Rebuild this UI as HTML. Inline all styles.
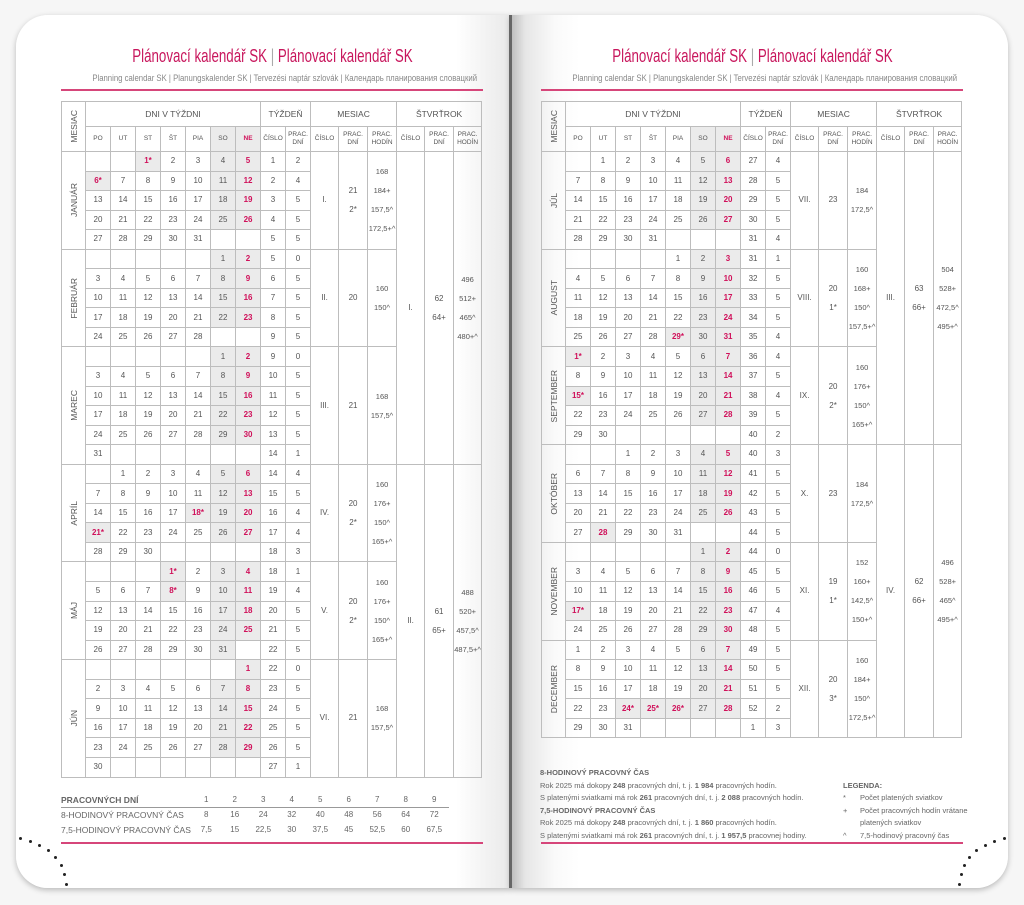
<!DOCTYPE html>
<html><head><meta charset="utf-8">
<style>
*{margin:0;padding:0;box-sizing:border-box}
body{width:1024px;height:905px;background:#f6f6f6;position:relative;overflow:hidden;font-family:"Liberation Sans Narrow","Liberation Sans",sans-serif;color:#555}
.pg{position:absolute;top:15px;height:873px;background:#fff;box-shadow:0 2px 6px rgba(0,0,0,.25)}
#lp{left:16px;width:494px;border-radius:32px 0 0 32px;background:linear-gradient(90deg,#fff 0,#fff 440px,#e9e9e9 494px)}
#rp{left:510px;width:498px;border-radius:0 32px 32px 0;background:linear-gradient(90deg,#b9b9b9 0,#e6e6e6 15px,#fafafa 45px,#fff 70px)}
#gut{position:absolute;left:509px;top:15px;width:3px;height:873px;background:#666}
.t{position:absolute;width:422px;text-align:center;white-space:nowrap}
.t>span.in{display:inline-block;transform:scaleX(.74);transform-origin:center}
.t1{top:46px;font-size:18px;color:#c8175d}
.t1 .g{color:#aaa}
.t2{top:73px;font-size:9px;color:#888}
.t2>span.in{transform:scaleX(.86)}
.pl{position:absolute;height:2px;background:#d6467a;width:422px}
table{position:absolute;top:101px;border-collapse:collapse;table-layout:fixed;width:421px;font-size:8px;text-align:center}
td{border:1px solid #bdbdbd;padding:0;vertical-align:middle;line-height:10px;white-space:nowrap}
tr{height:19.56px}
tr.h1{height:25px}tr.h2{height:25px}
.h1 td{font-size:8.5px}
.h2 td{font-size:6.5px;line-height:8px}
.s{background:#ebebeb}
.r{color:#d0105a;font-weight:bold}
.v{writing-mode:vertical-rl;transform:rotate(180deg);margin:auto;font-size:8.5px}
.hh{line-height:19px;font-size:7.5px}
.q{line-height:19px}
.bt{position:absolute;font-size:8.5px;color:#666;white-space:nowrap}
.dot{position:absolute;width:3px;height:3px;border-radius:50%;background:#222}
</style></head><body>
<div class="pg" id="lp"></div>
<div class="pg" id="rp"></div>
<div id="gut"></div>

<div class="t t1" style="left:61px"><span class="in">Plánovací kalendář SK <span class="g">|</span> Plánovací kalendář SK</span></div>
<div class="t t2" style="left:61px"><span class="in">Planning calendar SK | Planungskalender SK | Tervezési naptár szlovák | Календарь планирования словацкий</span></div>
<div class="pl" style="left:61px;top:89px"></div>
<div class="t t1" style="left:541px"><span class="in">Plánovací kalendář SK <span class="g">|</span> Plánovací kalendář SK</span></div>
<div class="t t2" style="left:541px"><span class="in">Planning calendar SK | Planungskalender SK | Tervezési naptár szlovák | Календарь планирования словацкий</span></div>
<div class="pl" style="left:541px;top:89px"></div>

<table style="left:61px">
<colgroup><col style="width:24px"><col style="width:25px"><col style="width:25px"><col style="width:25px"><col style="width:25px"><col style="width:25px"><col style="width:25px"><col style="width:25px"><col style="width:25px"><col style="width:25px"><col style="width:28px"><col style="width:29px"><col style="width:29px"><col style="width:28px"><col style="width:29px"><col style="width:28px"></colgroup>
<tr class="h1"><td rowspan="2"><div class="v">MESIAC</div></td><td colspan="7">DNI V TÝŽDNI</td><td colspan="2">TÝŽDEŇ</td><td colspan="3">MESIAC</td><td colspan="3">ŠTVRŤROK</td></tr>
<tr class="h2"><td>PO</td><td>UT</td><td>ST</td><td>ŠT</td><td>PIA</td><td class="s">SO</td><td class="s r">NE</td><td>ČÍSLO</td><td>PRAC.<br>DNÍ</td><td>ČÍSLO</td><td>PRAC.<br>DNÍ</td><td>PRAC.<br>HODÍN</td><td>ČÍSLO</td><td>PRAC.<br>DNÍ</td><td>PRAC.<br>HODÍN</td></tr>

<tr><td rowspan="5"><div class="v">JANUÁR</div></td><td></td><td></td><td class="s r">1*</td><td>2</td><td>3</td><td class="s">4</td><td class="s r">5</td><td>1</td><td>2</td><td rowspan="5">I.</td><td rowspan="5" class="q">21<br>2*</td><td rowspan="5" class="hh">168<br>184+<br>157,5^<br>172,5+^</td><td rowspan="16">I.</td><td rowspan="16" class="q">62<br>64+</td><td rowspan="16" class="hh">496<br>512+<br>465^<br>480+^</td></tr>
<tr><td class="s r">6*</td><td>7</td><td>8</td><td>9</td><td>10</td><td class="s">11</td><td class="s r">12</td><td>2</td><td>4</td></tr>
<tr><td>13</td><td>14</td><td>15</td><td>16</td><td>17</td><td class="s">18</td><td class="s r">19</td><td>3</td><td>5</td></tr>
<tr><td>20</td><td>21</td><td>22</td><td>23</td><td>24</td><td class="s">25</td><td class="s r">26</td><td>4</td><td>5</td></tr>
<tr><td>27</td><td>28</td><td>29</td><td>30</td><td>31</td><td></td><td></td><td>5</td><td>5</td></tr>

<tr><td rowspan="5"><div class="v">FEBRUÁR</div></td><td></td><td></td><td></td><td></td><td></td><td class="s">1</td><td class="s r">2</td><td>5</td><td>0</td><td rowspan="5">II.</td><td rowspan="5">20</td><td rowspan="5" class="hh">160<br>150^</td></tr>
<tr><td>3</td><td>4</td><td>5</td><td>6</td><td>7</td><td class="s">8</td><td class="s r">9</td><td>6</td><td>5</td></tr>
<tr><td>10</td><td>11</td><td>12</td><td>13</td><td>14</td><td class="s">15</td><td class="s r">16</td><td>7</td><td>5</td></tr>
<tr><td>17</td><td>18</td><td>19</td><td>20</td><td>21</td><td class="s">22</td><td class="s r">23</td><td>8</td><td>5</td></tr>
<tr><td>24</td><td>25</td><td>26</td><td>27</td><td>28</td><td></td><td></td><td>9</td><td>5</td></tr>

<tr><td rowspan="6"><div class="v">MAREC</div></td><td></td><td></td><td></td><td></td><td></td><td class="s">1</td><td class="s r">2</td><td>9</td><td>0</td><td rowspan="6">III.</td><td rowspan="6">21</td><td rowspan="6" class="hh">168<br>157,5^</td></tr>
<tr><td>3</td><td>4</td><td>5</td><td>6</td><td>7</td><td class="s">8</td><td class="s r">9</td><td>10</td><td>5</td></tr>
<tr><td>10</td><td>11</td><td>12</td><td>13</td><td>14</td><td class="s">15</td><td class="s r">16</td><td>11</td><td>5</td></tr>
<tr><td>17</td><td>18</td><td>19</td><td>20</td><td>21</td><td class="s">22</td><td class="s r">23</td><td>12</td><td>5</td></tr>
<tr><td>24</td><td>25</td><td>26</td><td>27</td><td>28</td><td class="s">29</td><td class="s r">30</td><td>13</td><td>5</td></tr>
<tr><td>31</td><td></td><td></td><td></td><td></td><td></td><td></td><td>14</td><td>1</td></tr>

<tr><td rowspan="5"><div class="v">APRÍL</div></td><td></td><td>1</td><td>2</td><td>3</td><td>4</td><td class="s">5</td><td class="s r">6</td><td>14</td><td>4</td><td rowspan="5">IV.</td><td rowspan="5" class="q">20<br>2*</td><td rowspan="5" class="hh">160<br>176+<br>150^<br>165+^</td><td rowspan="16">II.</td><td rowspan="16" class="q">61<br>65+</td><td rowspan="16" class="hh">488<br>520+<br>457,5^<br>487,5+^</td></tr>
<tr><td>7</td><td>8</td><td>9</td><td>10</td><td>11</td><td class="s">12</td><td class="s r">13</td><td>15</td><td>5</td></tr>
<tr><td>14</td><td>15</td><td>16</td><td>17</td><td class="s r">18*</td><td class="s">19</td><td class="s r">20</td><td>16</td><td>4</td></tr>
<tr><td class="s r">21*</td><td>22</td><td>23</td><td>24</td><td>25</td><td class="s">26</td><td class="s r">27</td><td>17</td><td>4</td></tr>
<tr><td>28</td><td>29</td><td>30</td><td></td><td></td><td></td><td></td><td>18</td><td>3</td></tr>

<tr><td rowspan="5"><div class="v">MÁJ</div></td><td></td><td></td><td></td><td class="s r">1*</td><td>2</td><td class="s">3</td><td class="s r">4</td><td>18</td><td>1</td><td rowspan="5">V.</td><td rowspan="5" class="q">20<br>2*</td><td rowspan="5" class="hh">160<br>176+<br>150^<br>165+^</td></tr>
<tr><td>5</td><td>6</td><td>7</td><td class="s r">8*</td><td>9</td><td class="s">10</td><td class="s r">11</td><td>19</td><td>4</td></tr>
<tr><td>12</td><td>13</td><td>14</td><td>15</td><td>16</td><td class="s">17</td><td class="s r">18</td><td>20</td><td>5</td></tr>
<tr><td>19</td><td>20</td><td>21</td><td>22</td><td>23</td><td class="s">24</td><td class="s r">25</td><td>21</td><td>5</td></tr>
<tr><td>26</td><td>27</td><td>28</td><td>29</td><td>30</td><td class="s">31</td><td></td><td>22</td><td>5</td></tr>

<tr><td rowspan="6"><div class="v">JÚN</div></td><td></td><td></td><td></td><td></td><td></td><td></td><td class="s r">1</td><td>22</td><td>0</td><td rowspan="6">VI.</td><td rowspan="6">21</td><td rowspan="6" class="hh">168<br>157,5^</td></tr>
<tr><td>2</td><td>3</td><td>4</td><td>5</td><td>6</td><td class="s">7</td><td class="s r">8</td><td>23</td><td>5</td></tr>
<tr><td>9</td><td>10</td><td>11</td><td>12</td><td>13</td><td class="s">14</td><td class="s r">15</td><td>24</td><td>5</td></tr>
<tr><td>16</td><td>17</td><td>18</td><td>19</td><td>20</td><td class="s">21</td><td class="s r">22</td><td>25</td><td>5</td></tr>
<tr><td>23</td><td>24</td><td>25</td><td>26</td><td>27</td><td class="s">28</td><td class="s r">29</td><td>26</td><td>5</td></tr>
<tr><td>30</td><td></td><td></td><td></td><td></td><td></td><td></td><td>27</td><td>1</td></tr>
</table>

<table style="left:541px">
<colgroup><col style="width:24px"><col style="width:25px"><col style="width:25px"><col style="width:25px"><col style="width:25px"><col style="width:25px"><col style="width:25px"><col style="width:25px"><col style="width:25px"><col style="width:25px"><col style="width:28px"><col style="width:29px"><col style="width:29px"><col style="width:28px"><col style="width:29px"><col style="width:28px"></colgroup>
<tr class="h1"><td rowspan="2"><div class="v">MESIAC</div></td><td colspan="7">DNI V TÝŽDNI</td><td colspan="2">TÝŽDEŇ</td><td colspan="3">MESIAC</td><td colspan="3">ŠTVRŤROK</td></tr>
<tr class="h2"><td>PO</td><td>UT</td><td>ST</td><td>ŠT</td><td>PIA</td><td class="s">SO</td><td class="s r">NE</td><td>ČÍSLO</td><td>PRAC.<br>DNÍ</td><td>ČÍSLO</td><td>PRAC.<br>DNÍ</td><td>PRAC.<br>HODÍN</td><td>ČÍSLO</td><td>PRAC.<br>DNÍ</td><td>PRAC.<br>HODÍN</td></tr>

<tr><td rowspan="5"><div class="v">JÚL</div></td><td></td><td>1</td><td>2</td><td>3</td><td>4</td><td class="s">5</td><td class="s r">6</td><td>27</td><td>4</td><td rowspan="5">VII.</td><td rowspan="5">23</td><td rowspan="5" class="hh">184<br>172,5^</td><td rowspan="15">III.</td><td rowspan="15" class="q">63<br>66+</td><td rowspan="15" class="hh">504<br>528+<br>472,5^<br>495+^</td></tr>
<tr><td>7</td><td>8</td><td>9</td><td>10</td><td>11</td><td class="s">12</td><td class="s r">13</td><td>28</td><td>5</td></tr>
<tr><td>14</td><td>15</td><td>16</td><td>17</td><td>18</td><td class="s">19</td><td class="s r">20</td><td>29</td><td>5</td></tr>
<tr><td>21</td><td>22</td><td>23</td><td>24</td><td>25</td><td class="s">26</td><td class="s r">27</td><td>30</td><td>5</td></tr>
<tr><td>28</td><td>29</td><td>30</td><td>31</td><td></td><td></td><td></td><td>31</td><td>4</td></tr>

<tr><td rowspan="5"><div class="v">AUGUST</div></td><td></td><td></td><td></td><td></td><td>1</td><td class="s">2</td><td class="s r">3</td><td>31</td><td>1</td><td rowspan="5">VIII.</td><td rowspan="5" class="q">20<br>1*</td><td rowspan="5" class="hh">160<br>168+<br>150^<br>157,5+^</td></tr>
<tr><td>4</td><td>5</td><td>6</td><td>7</td><td>8</td><td class="s">9</td><td class="s r">10</td><td>32</td><td>5</td></tr>
<tr><td>11</td><td>12</td><td>13</td><td>14</td><td>15</td><td class="s">16</td><td class="s r">17</td><td>33</td><td>5</td></tr>
<tr><td>18</td><td>19</td><td>20</td><td>21</td><td>22</td><td class="s">23</td><td class="s r">24</td><td>34</td><td>5</td></tr>
<tr><td>25</td><td>26</td><td>27</td><td>28</td><td class="s r">29*</td><td class="s">30</td><td class="s r">31</td><td>35</td><td>4</td></tr>

<tr><td rowspan="5"><div class="v">SEPTEMBER</div></td><td class="s r">1*</td><td>2</td><td>3</td><td>4</td><td>5</td><td class="s">6</td><td class="s r">7</td><td>36</td><td>4</td><td rowspan="5">IX.</td><td rowspan="5" class="q">20<br>2*</td><td rowspan="5" class="hh">160<br>176+<br>150^<br>165+^</td></tr>
<tr><td>8</td><td>9</td><td>10</td><td>11</td><td>12</td><td class="s">13</td><td class="s r">14</td><td>37</td><td>5</td></tr>
<tr><td class="s r">15*</td><td>16</td><td>17</td><td>18</td><td>19</td><td class="s">20</td><td class="s r">21</td><td>38</td><td>4</td></tr>
<tr><td>22</td><td>23</td><td>24</td><td>25</td><td>26</td><td class="s">27</td><td class="s r">28</td><td>39</td><td>5</td></tr>
<tr><td>29</td><td>30</td><td></td><td></td><td></td><td></td><td></td><td>40</td><td>2</td></tr>

<tr><td rowspan="5"><div class="v">OKTÓBER</div></td><td></td><td></td><td>1</td><td>2</td><td>3</td><td class="s">4</td><td class="s r">5</td><td>40</td><td>3</td><td rowspan="5">X.</td><td rowspan="5">23</td><td rowspan="5" class="hh">184<br>172,5^</td><td rowspan="15">IV.</td><td rowspan="15" class="q">62<br>66+</td><td rowspan="15" class="hh">496<br>528+<br>465^<br>495+^</td></tr>
<tr><td>6</td><td>7</td><td>8</td><td>9</td><td>10</td><td class="s">11</td><td class="s r">12</td><td>41</td><td>5</td></tr>
<tr><td>13</td><td>14</td><td>15</td><td>16</td><td>17</td><td class="s">18</td><td class="s r">19</td><td>42</td><td>5</td></tr>
<tr><td>20</td><td>21</td><td>22</td><td>23</td><td>24</td><td class="s">25</td><td class="s r">26</td><td>43</td><td>5</td></tr>
<tr><td>27</td><td class="s r">28</td><td>29</td><td>30</td><td>31</td><td></td><td></td><td>44</td><td>5</td></tr>

<tr><td rowspan="5"><div class="v">NOVEMBER</div></td><td></td><td></td><td></td><td></td><td></td><td class="s">1</td><td class="s r">2</td><td>44</td><td>0</td><td rowspan="5">XI.</td><td rowspan="5" class="q">19<br>1*</td><td rowspan="5" class="hh">152<br>160+<br>142,5^<br>150+^</td></tr>
<tr><td>3</td><td>4</td><td>5</td><td>6</td><td>7</td><td class="s">8</td><td class="s r">9</td><td>45</td><td>5</td></tr>
<tr><td>10</td><td>11</td><td>12</td><td>13</td><td>14</td><td class="s">15</td><td class="s r">16</td><td>46</td><td>5</td></tr>
<tr><td class="s r">17*</td><td>18</td><td>19</td><td>20</td><td>21</td><td class="s">22</td><td class="s r">23</td><td>47</td><td>4</td></tr>
<tr><td>24</td><td>25</td><td>26</td><td>27</td><td>28</td><td class="s">29</td><td class="s r">30</td><td>48</td><td>5</td></tr>

<tr><td rowspan="5"><div class="v">DECEMBER</div></td><td>1</td><td>2</td><td>3</td><td>4</td><td>5</td><td class="s">6</td><td class="s r">7</td><td>49</td><td>5</td><td rowspan="5">XII.</td><td rowspan="5" class="q">20<br>3*</td><td rowspan="5" class="hh">160<br>184+<br>150^<br>172,5+^</td></tr>
<tr><td>8</td><td>9</td><td>10</td><td>11</td><td>12</td><td class="s">13</td><td class="s r">14</td><td>50</td><td>5</td></tr>
<tr><td>15</td><td>16</td><td>17</td><td>18</td><td>19</td><td class="s">20</td><td class="s r">21</td><td>51</td><td>5</td></tr>
<tr><td>22</td><td>23</td><td class="s r">24*</td><td class="s r">25*</td><td class="s r">26*</td><td class="s">27</td><td class="s r">28</td><td>52</td><td>2</td></tr>
<tr><td>29</td><td>30</td><td>31</td><td></td><td></td><td></td><td></td><td>1</td><td>3</td></tr>
</table>

<!-- bottom left -->
<div class="bt" style="left:61px;top:795px;font-weight:bold;font-size:8.5px">PRACOVNÝCH DNÍ</div>
<div class="bt" style="left:61px;top:810px;font-size:8.5px">8-HODINOVÝ PRACOVNÝ ČAS</div>
<div class="bt" style="left:61px;top:825px;font-size:8.5px">7,5-HODINOVÝ PRACOVNÝ ČAS</div>
<div style="position:absolute;left:61px;top:807px;width:388px;height:1px;background:#999"></div>
<div style="position:absolute;left:61px;top:842px;width:422px;height:2px;background:#d6467a"></div>
<div style="position:absolute;left:192px;top:795px;font-size:8px;color:#666;display:grid;grid-template-columns:repeat(9,28.5px);grid-auto-rows:15px;text-align:center">
<span>1</span><span>2</span><span>3</span><span>4</span><span>5</span><span>6</span><span>7</span><span>8</span><span>9</span>
<span>8</span><span>16</span><span>24</span><span>32</span><span>40</span><span>48</span><span>56</span><span>64</span><span>72</span>
<span>7,5</span><span>15</span><span>22,5</span><span>30</span><span>37,5</span><span>45</span><span>52,5</span><span>60</span><span>67,5</span>
</div>

<!-- bottom right -->
<div class="bt" style="left:540px;top:767px;font-size:7.5px;line-height:12.5px">
<b>8-HODINOVÝ PRACOVNÝ ČAS</b><br>
Rok 2025 má dokopy <b>248</b> pracovných dní, t. j. <b>1 984</b> pracovných hodín.<br>
S platenými sviatkami má rok <b>261</b> pracovných dní, t. j. <b>2 088</b> pracovných hodín.<br>
<b>7,5-HODINOVÝ PRACOVNÝ ČAS</b><br>
Rok 2025 má dokopy <b>248</b> pracovných dní, t. j. <b>1 860</b> pracovných hodín.<br>
S platenými sviatkami má rok <b>261</b> pracovných dní, t. j. <b>1 957,5</b> pracovnej hodiny.
</div>
<div class="bt" style="left:843px;top:780px;font-size:7.5px;line-height:12.5px"><b>LEGENDA:</b></div>
<div class="bt" style="left:843px;top:792px;font-size:7.5px;line-height:12.5px">*<br>+<br><br>^</div>
<div class="bt" style="left:860px;top:792px;font-size:7.5px;line-height:12.5px">Počet platených sviatkov<br>Počet pracovných hodín vrátane<br>platených sviatkov<br>7,5-hodinový pracovný čas</div>
<div style="position:absolute;left:541px;top:842px;width:422px;height:2px;background:#d6467a"></div>

<!-- dots -->
<div class="dot" style="left:19px;top:837px"></div><div class="dot" style="left:29px;top:840px"></div><div class="dot" style="left:38px;top:844px"></div><div class="dot" style="left:47px;top:849px"></div><div class="dot" style="left:54px;top:856px"></div><div class="dot" style="left:60px;top:864px"></div><div class="dot" style="left:63px;top:873px"></div><div class="dot" style="left:65px;top:883px"></div>
<div class="dot" style="left:1003px;top:837px"></div><div class="dot" style="left:993px;top:840px"></div><div class="dot" style="left:984px;top:844px"></div><div class="dot" style="left:975px;top:849px"></div><div class="dot" style="left:968px;top:856px"></div><div class="dot" style="left:963px;top:864px"></div><div class="dot" style="left:960px;top:873px"></div><div class="dot" style="left:958px;top:883px"></div>
</body></html>
